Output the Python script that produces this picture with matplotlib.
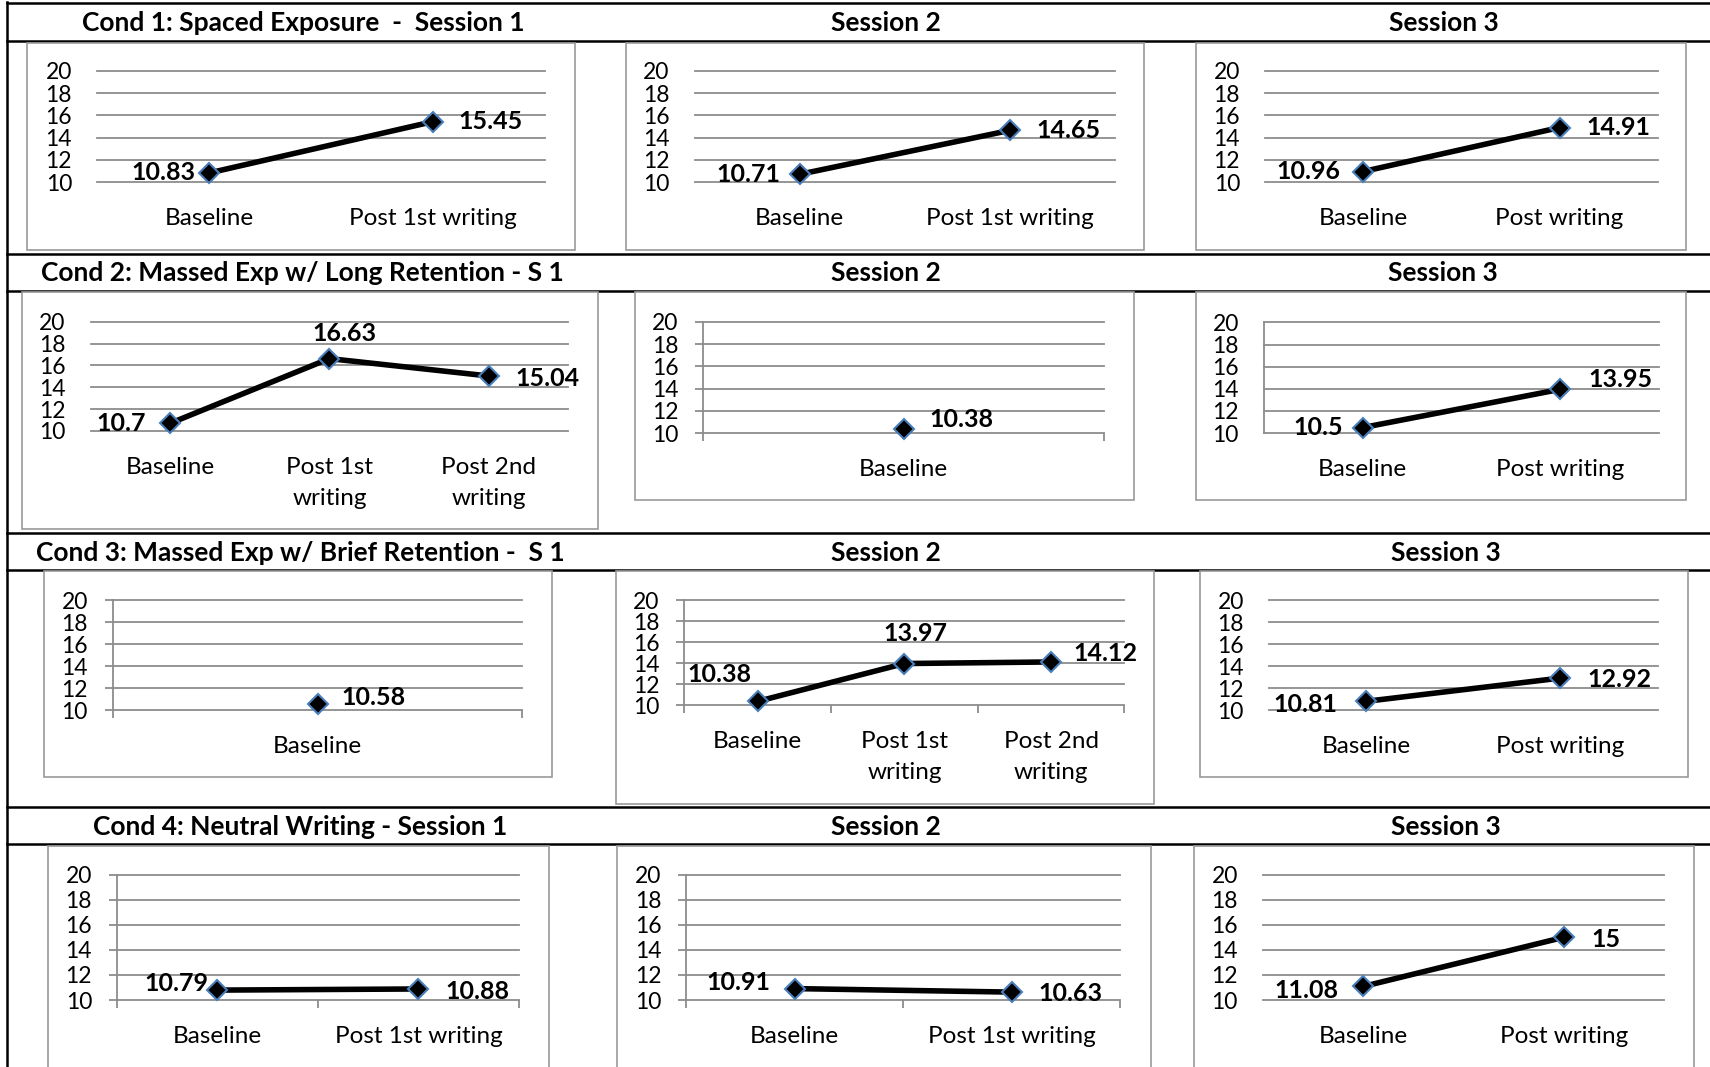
import numpy as np
import matplotlib
matplotlib.use('Agg')
import matplotlib.pyplot as plt
from matplotlib.patches import Rectangle
from matplotlib.lines import Line2D

plt.rcParams['font.family'] = ['Lato', 'DejaVu Sans']

# ---------------- data ----------------
cond_titles = ['Cond 1: Spaced Exposure  -  Session 1',
               'Cond 2: Massed Exp w/ Long Retention - S 1',
               'Cond 3: Massed Exp w/ Brief Retention -  S 1',
               'Cond 4: Neutral Writing - Session 1']
session_titles = ['Session 2', 'Session 3']

cats_post1 = ['Baseline', 'Post 1st writing']
cats_post = ['Baseline', 'Post writing']
cats_three = ['Baseline', 'Post 1st\nwriting', 'Post 2nd\nwriting']
cats_base = ['Baseline']

c1_s1 = [10.83, 15.45]
c1_s2 = [10.71, 14.65]
c1_s3 = [10.96, 14.91]
c2_s1 = [10.7, 16.63, 15.04]
c2_s2 = [10.38]
c2_s3 = [10.5, 13.95]
c3_s1 = [10.58]
c3_s2 = [10.38, 13.97, 14.12]
c3_s3 = [10.81, 12.92]
c4_s1 = [10.79, 10.88]
c4_s2 = [10.91, 10.63]
c4_s3 = [11.08, 15]

y_ticks = [10, 12, 14, 16, 18, 20]

charts = [
    (cats_post1, c1_s1), (cats_post1, c1_s2), (cats_post, c1_s3),
    (cats_three, c2_s1), (cats_base, c2_s2), (cats_post, c2_s3),
    (cats_base, c3_s1), (cats_three, c3_s2), (cats_post, c3_s3),
    (cats_post1, c4_s1), (cats_post1, c4_s2), (cats_post, c4_s3),
]

# ---------------- layout (reference units: 1568 x 978) ----------------
W, H = 1568.0, 978.0
PT = (1710.0 / 1568.0) * 72.0 / 100.0   # points per layout unit

def fx(x):
    return x / W

def fy(y):
    return 1.0 - y / H

# box, plot(x0, x1, y20, y10), axis line, tick marks, label placement
layout = [
    dict(box=(25, 39.5, 527, 229), plot=(89, 500, 65, 167), axis=False, ticks=False,
         labels=[('l', -13, 0), ('r', 23, 0)]),
    dict(box=(574, 39.5, 1049, 229), plot=(637, 1022, 65, 167), axis=False, ticks=False,
         labels=[('l', -18, 0), ('r', 25, 0)]),
    dict(box=(1097, 39.5, 1546, 229), plot=(1160, 1520, 65, 167), axis=False, ticks=False,
         labels=[('l', -21, 0), ('r', 25, 0)]),
    dict(box=(20, 268, 548, 485), plot=(83, 521, 295, 395), axis=False, ticks=False,
         labels=[('l', -22, 0), ('c', 14, -23), ('r', 25, 2)]),
    dict(box=(582, 268, 1040, 458), plot=(645, 1012, 295, 397), axis=True, ticks=True,
         labels=[('r', 24, -9)]),
    dict(box=(1097, 268, 1546, 458), plot=(1159, 1521, 295.5, 397), axis=True, ticks=False,
         labels=[('l', -18, 0), ('r', 26, -9)]),
    dict(box=(40, 523.5, 506, 712), plot=(103.5, 479, 550, 651), axis=True, ticks=True,
         labels=[('r', 22, -6)]),
    dict(box=(565, 523.5, 1058, 737), plot=(627.6, 1031, 550, 646.5), axis=True, ticks=True,
         labels=[('l', -5.5, -25), ('c', 10.5, -27.5), ('r', 20.5, -7.5)]),
    dict(box=(1100, 523.5, 1548, 712), plot=(1163.6, 1520, 550, 651), axis=False, ticks=False,
         labels=[('l', -26, 2.5), ('r', 25, 1.5)]),
    dict(box=(44, 775, 503, 1010), plot=(107.3, 475.8, 801.6, 916.6), axis=True, ticks=True,
         labels=[('l', -8, -6.5), ('r', 25, 2)]),
    dict(box=(566, 775, 1055, 1010), plot=(629.4, 1027, 801.6, 916.6), axis=True, ticks=True,
         labels=[('l', -22, -6), ('r', 25, 1.5)]),
    dict(box=(1095, 775, 1553, 1010), plot=(1158, 1526, 801.6, 916.6), axis=False, ticks=False,
         labels=[('l', -23, 3.5), ('r', 25, 2)]),
]

row_lines = [3, 37.5, 233, 266.5, 488.5, 522.5, 739.5, 773.5]
title_rows_y = [21, 250, 507, 758]
cond_title_x = [278, 277, 275, 275]
session_title_x = [[812, 1324], [812, 1323], [812, 1326], [812, 1326]]

GRID = '#8c8c8c'
EDGE = '#4a7ebb'
TITLE_FS = 19
TICK_FS = 16.5
CAT_FS = 17.5
VAL_FS = 18

fig = plt.figure(figsize=(17.1, 10.67), dpi=100)
fig.patch.set_facecolor('white')

# table lines
for y in row_lines:
    fig.add_artist(Line2D([fx(6.4), 1.0], [fy(y), fy(y)], transform=fig.transFigure,
                          color='black', lw=1.8, zorder=1))
fig.add_artist(Line2D([fx(6.4), fx(6.4)], [fy(2), 0.0], transform=fig.transFigure,
                      color='black', lw=1.8, zorder=1))

# titles
for r in range(4):
    fig.text(fx(cond_title_x[r]), fy(title_rows_y[r]), cond_titles[r], ha='center',
             va='center', fontsize=TITLE_FS, fontweight='bold')
    for c in range(2):
        fig.text(fx(session_title_x[r][c]), fy(title_rows_y[r]), session_titles[c],
                 ha='center', va='center', fontsize=TITLE_FS, fontweight='bold')

# charts
for (cats, vals), lay in zip(charts, layout):
    x0, y0, x1, y1 = lay['box']
    fig.add_artist(Rectangle((fx(x0), fy(y1)), (x1 - x0) / W, (y1 - y0) / H,
                             transform=fig.transFigure, facecolor='white',
                             edgecolor='#999999', lw=1.2, zorder=2))
    px0, px1, y20, y10 = lay['plot']
    ax = fig.add_axes([fx(px0), fy(y10), (px1 - px0) / W, (y10 - y20) / H], zorder=3)
    ax.set_facecolor('none')
    n = len(cats)
    xs = np.arange(n)
    ax.set_xlim(-0.5, n - 0.5)
    ax.set_ylim(10, 20)
    ax.set_yticks(y_ticks)
    ax.yaxis.grid(True, color=GRID, lw=1.3)
    ax.set_axisbelow(True)
    for gl in ax.get_ygridlines():
        gl.set_clip_on(False)
    for sp in ax.spines.values():
        sp.set_visible(False)
    if lay['axis']:
        ax.spines['left'].set_visible(True)
        ax.spines['left'].set_color(GRID)
        ax.spines['left'].set_linewidth(1.3)
    tl = 6.0 if lay['ticks'] else 0.0
    ax.tick_params(axis='y', length=tl, width=1.3, color=GRID, direction='out',
                   pad=18 - tl, labelsize=TICK_FS)
    ax.set_xticks(xs)
    ax.set_xticklabels(cats, fontsize=CAT_FS, linespacing=1.6)
    ax.tick_params(axis='x', which='major', length=0, pad=18.5)
    if lay['ticks']:
        ax.set_xticks(np.arange(n + 1) - 0.5, minor=True)
        ax.tick_params(axis='x', which='minor', length=6, width=1.3, color=GRID,
                       direction='out')
    ax.plot(xs, vals, color='black', lw=4, marker='D', ms=10.5, mfc='black',
            mec=EDGE, mew=1.5, clip_on=False, zorder=5)
    for i, (v, (kind, dx, dy)) in enumerate(zip(vals, lay['labels'])):
        ha = {'l': 'right', 'r': 'left', 'c': 'center'}[kind]
        ax.annotate(f'{v:g}', (i, v), xytext=(dx * PT, -dy * PT),
                    textcoords='offset points', ha=ha, va='center',
                    fontsize=VAL_FS, fontweight='bold', annotation_clip=False, zorder=6)

fig.savefig('out.png', dpi=100, facecolor='white')
